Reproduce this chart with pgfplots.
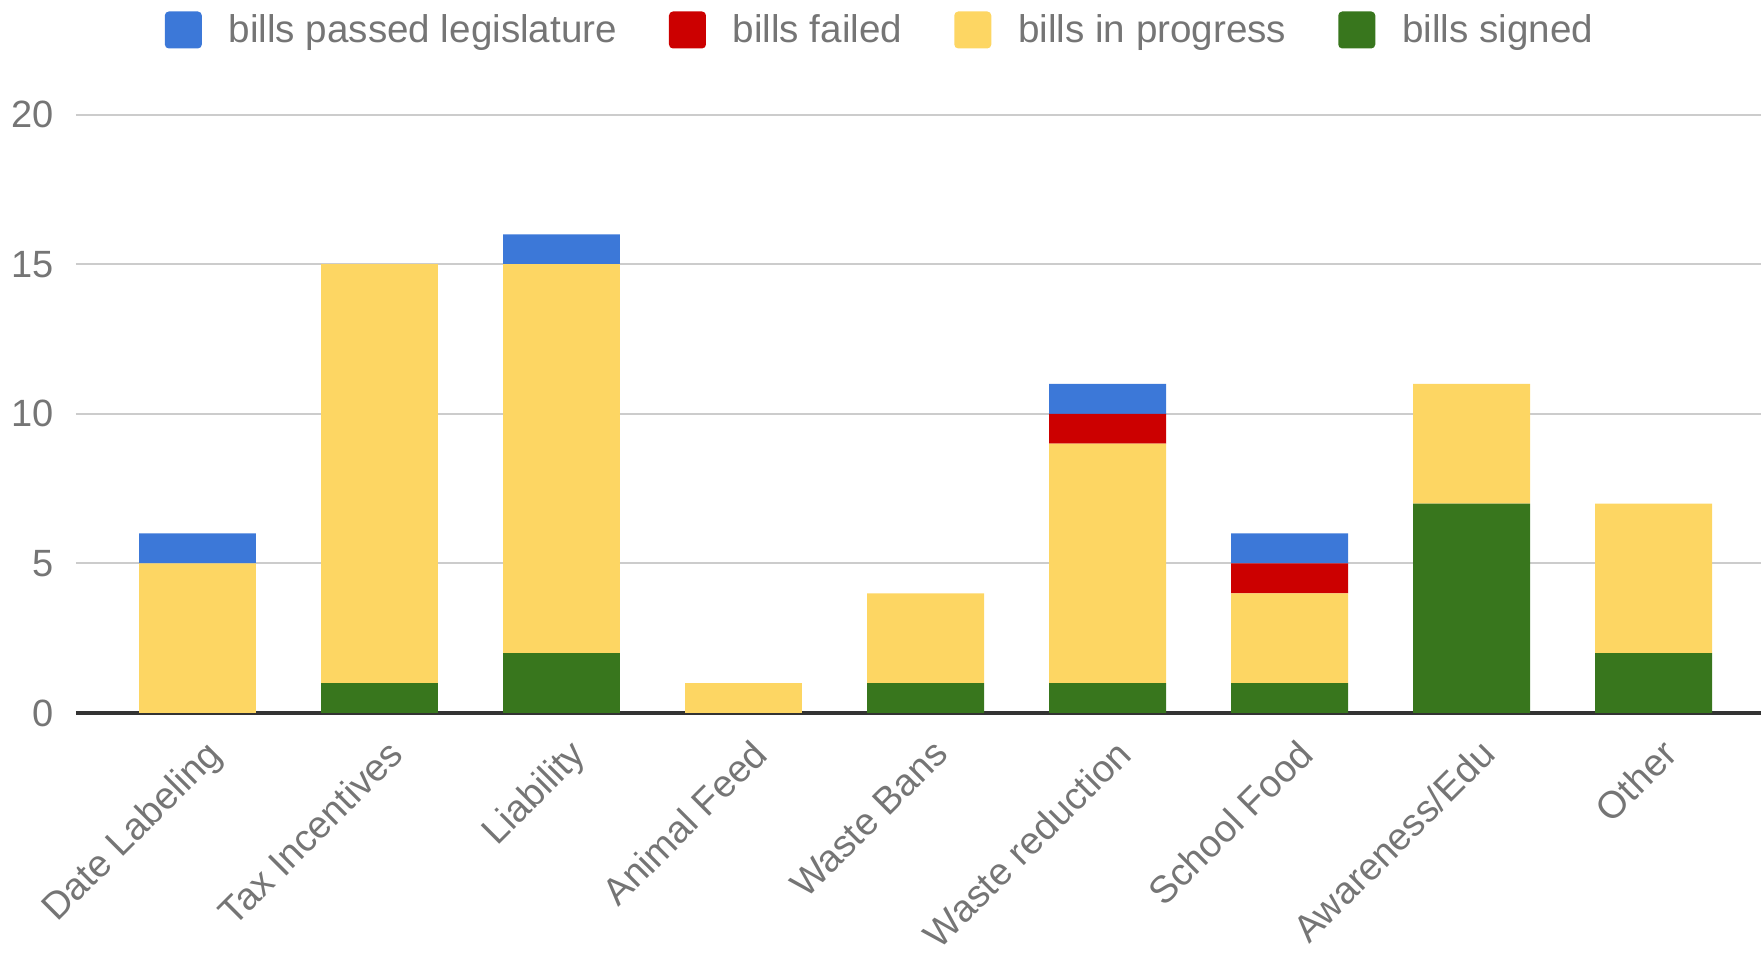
\documentclass[border=0pt]{standalone}
\usepackage{pgfplots}
\pgfplotsset{compat=1.18}
\usepackage{fontspec}
\setmainfont{Liberation Sans}
\usetikzlibrary{calc}
\definecolor{cblue}{HTML}{3C78D8}
\definecolor{cred}{HTML}{CC0000}
\definecolor{cyellow}{HTML}{FDD663}
\definecolor{cgreen}{HTML}{38761D}
\definecolor{tgray}{HTML}{757575}
\definecolor{ggray}{HTML}{CCCCCC}
\definecolor{bgray}{HTML}{333333}
\begin{document}
\begin{tikzpicture}
\begin{axis}[
  scale only axis,
  width=842.5pt, height=299.2pt,
  xmin=-0.668, xmax=8.59,
  ymin=0, ymax=20,
  ybar stacked,
  bar width=58.4pt,
  axis line style={draw=none},
  major tick length=0pt,
  ytick={0,5,10,15,20},
  ymajorgrids,
  grid style={ggray, line width=1pt},
  extra y ticks={0},
  extra y tick labels={},
  extra y tick style={grid style={bgray, line width=1.7pt}},
  xtick={0,...,8},
  xticklabels={Date Labeling, Tax Incentives, Liability, Animal Feed, Waste Bans, Waste reduction, School Food, Awareness/Edu, Other},
  font=\fontsize{19pt}{22pt}\selectfont,
  tick label style={text=tgray},
  /pgf/number format/assume math mode=true,
  yticklabel style={inner sep=0pt, xshift=-11pt},
  xticklabel style={inner sep=0pt, xshift=3pt, yshift=-12pt, rotate=45, anchor=north east},
  reverse legend,
  legend columns=4,
  legend image code/.code={\fill[#1, rounded corners=2pt] (0pt,-9.25pt) rectangle (18.5pt,9.25pt);},
  legend style={draw=none, fill=none, at={(0.4777,1.1414)}, anchor=center,
    text=tgray, font=\fontsize{19.3pt}{22pt}\selectfont, inner sep=0pt,
    /tikz/every odd column/.append style={column sep=11.4pt},
    /tikz/every even column/.append style={column sep=24pt}},
  legend cell align=left,
]
\coordinate (bl) at (rel axis cs:0,0);
\coordinate (tr) at (rel axis cs:1,1);
% bills signed
\addplot[fill=cgreen, draw=none] coordinates {(0,0) (1,1) (2,2) (3,0) (4,1) (5,1) (6,1) (7,7) (8,2)};
\addlegendentry{bills signed}
% bills in progress
\addplot[fill=cyellow, draw=none] coordinates {(0,5) (1,14) (2,13) (3,1) (4,3) (5,8) (6,3) (7,4) (8,5)};
\addlegendentry{bills in progress}
% bills failed
\addplot[fill=cred, draw=none] coordinates {(0,0) (1,0) (2,0) (3,0) (4,0) (5,1) (6,1) (7,0) (8,0)};
\addlegendentry{bills failed}
% bills passed legislature
\addplot[fill=cblue, draw=none] coordinates {(0,1) (1,0) (2,1) (3,0) (4,0) (5,1) (6,1) (7,0) (8,0)};
\addlegendentry{bills passed legislature}
\end{axis}
\pgfresetboundingbox
\path ($(bl)+(-38pt,-121pt)$) rectangle ($(tr)+(0pt,57.3pt)$);
\end{tikzpicture}
\end{document}
